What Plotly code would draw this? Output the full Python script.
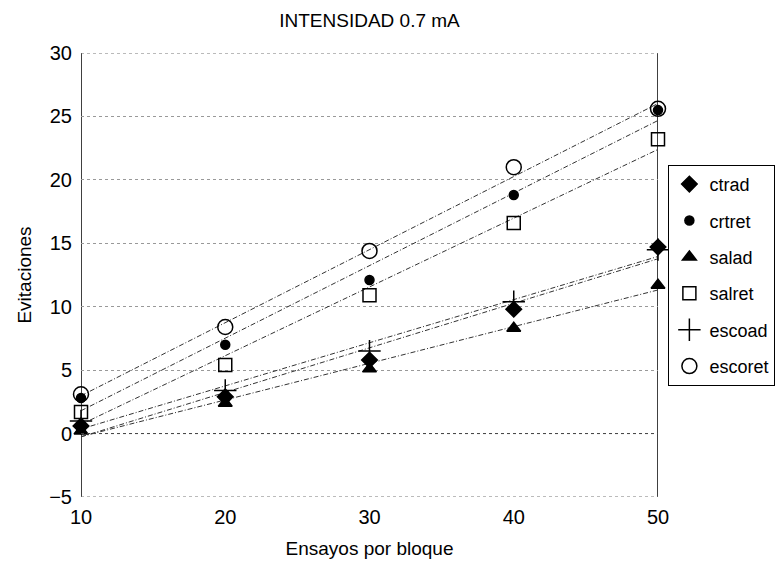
import numpy as np
import plotly.graph_objects as go

x_vals = [10, 20, 30, 40, 50]
ctrad = [0.6, 2.9, 5.8, 9.8, 14.7]
crtret = [2.8, 7.0, 12.1, 18.8, 25.5]
salad = [0.2, 2.4, 5.1, 8.3, 11.7]
salret = [1.7, 5.4, 10.9, 16.6, 23.2]
escoad = [1.0, 3.4, 6.5, 10.4, 14.5]
escoret = [3.1, 8.4, 14.4, 21.0, 25.6]

series = [
    ("ctrad", ctrad, "diamond", 12),
    ("crtret", crtret, "circle", 9),
    ("salad", salad, "triangle-up", 12),
    ("salret", salret, "square-open", 13),
    ("escoad", escoad, "cross-thin-open", 16),
    ("escoret", escoret, "circle-open", 15),
]

fig = go.Figure()
xs = np.array(x_vals, dtype=float)
for name, vals, sym, size in series:
    ys = np.array(vals, dtype=float)
    slope, intercept = np.polyfit(xs, ys, 1)
    fit_x = [xs[0], xs[-1]]
    fit_y = [intercept + slope * xs[0], intercept + slope * xs[-1]]
    fig.add_trace(go.Scatter(
        x=fit_x, y=fit_y, mode="lines", showlegend=False,
        line=dict(color="#333333", width=1, dash="5px,2px,1px,2px"), hoverinfo="skip"))
for name, vals, sym, size in series:
    fig.add_trace(go.Scatter(
        x=x_vals, y=vals, mode="markers", name=name, legendgroup=name,
        cliponaxis=False,
        marker=dict(symbol=sym, size=size, color="black",
                    line=dict(color="black", width=1.5))))

# zero line, top/bottom dotted frame and solid side lines
fig.add_shape(type="line", xref="x", yref="y", x0=10, x1=50, y0=0, y1=0,
              line=dict(color="#444444", width=1, dash="dot"))
for yv in (-5, 30):
    fig.add_shape(type="line", xref="x", yref="y", x0=10, x1=50, y0=yv, y1=yv,
                  line=dict(color="#777777", width=1, dash="dot"))
for xv in (10, 50):
    fig.add_shape(type="line", xref="x", yref="y", x0=xv, x1=xv, y0=-5, y1=30,
                  line=dict(color="black", width=1.5), layer="below")

fig.update_layout(
    width=781, height=570,
    margin=dict(l=81, r=123, t=53, b=73, autoexpand=False),
    paper_bgcolor="white", plot_bgcolor="white",
    font=dict(family="Liberation Sans, Arial, sans-serif", size=19, color="black"),
    title=dict(text="INTENSIDAD 0.7 mA", x=0.5, xref="paper", xanchor="center",
               y=0.965, yanchor="middle", font=dict(size=19)),
    xaxis=dict(range=[10, 50], tickvals=x_vals, showgrid=False, zeroline=False,
               showline=False, ticks="", tickfont=dict(size=20),
               ticklabelstandoff=6,
               title=dict(text="Ensayos por bloque", standoff=14, font=dict(size=19))),
    yaxis=dict(range=[-5, 30], tickvals=[-5, 0, 5, 10, 15, 20, 25, 30],
               showgrid=True, gridcolor="#999999", griddash="dot", gridwidth=1,
               zeroline=False, showline=False, ticks="", tickfont=dict(size=20),
               ticklabelstandoff=8,
               title=dict(text="Evitaciones", standoff=12, font=dict(size=19))),
    legend=dict(x=1.018, xanchor="left", y=0.748, yanchor="top",
                bordercolor="black", borderwidth=1, bgcolor="white",
                font=dict(size=18), tracegroupgap=10, itemwidth=30),
)

fig.write_html("out.html")
